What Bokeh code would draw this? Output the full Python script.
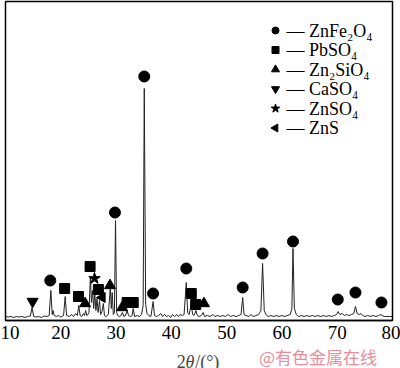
import math
from bokeh.plotting import figure
from bokeh.layouts import column
from bokeh.models import Range1d, Label, FixedTicker
from bokeh.embed import file_html
from bokeh.resources import INLINE

# XRD trace (2theta in degrees, intensity in arbitrary units)
TWO_THETA = [10.0, 10.5, 11.0, 11.5, 12.0, 12.5, 13.0, 13.5, 14.0, 14.5, 14.8, 15.1, 15.5, 16.0, 16.5,
             17.0, 17.5, 17.9, 18.2, 18.45, 18.6, 18.8, 19.2, 19.6, 20.0, 20.5, 20.8, 21.05, 21.5, 22.0,
             22.3, 22.7, 23.0, 23.25, 23.5, 23.8, 24.1, 24.3, 24.5, 24.7, 24.9, 25.1, 25.35, 25.55, 25.75,
             25.95, 26.15, 26.35, 26.55, 26.75, 27.0, 27.2, 27.45, 27.7, 27.9, 28.2, 28.6, 28.95, 29.15,
             29.3, 29.5, 29.7, 29.9, 30.1, 30.3, 30.6, 30.9, 31.15, 31.4, 31.7, 32.0, 32.25, 32.6, 32.9,
             33.1, 33.35, 33.8, 34.2, 34.6, 34.9, 35.1, 35.35, 35.6, 35.9, 36.3, 36.7, 36.95, 37.3, 37.7,
             38.1, 38.4, 38.8, 39.1, 39.5, 39.9, 40.2, 40.6, 41.0, 41.3, 41.6, 42.0, 42.3, 42.7, 42.95,
             43.2, 43.6, 43.85, 44.1, 44.45, 44.7, 45.0, 45.4, 45.75, 46.0, 46.5, 47.0, 47.5, 47.9, 48.4,
             48.8, 49.3, 49.8, 50.3, 50.7, 51.2, 51.7, 52.2, 52.6, 52.9, 53.15, 53.5, 54.0, 54.4, 54.8,
             55.3, 55.8, 56.2, 56.5, 56.8, 57.1, 57.5, 58.0, 58.5, 59.0, 59.5, 60.0, 60.5, 61.0, 61.5,
             61.8, 62.0, 62.25, 62.6, 63.0, 63.5, 64.0, 64.5, 65.0, 65.5, 66.0, 66.5, 67.0, 67.5, 68.0,
             68.5, 69.0, 69.5, 69.9, 70.15, 70.5, 70.9, 71.3, 71.7, 72.1, 72.6, 73.0, 73.3, 73.6, 74.0,
             74.3, 74.6, 75.0, 75.5, 76.0, 76.5, 77.0, 77.5, 77.9, 78.1, 78.5, 79.0, 79.5, 80.0]
INTENSITY = [4, 3.5, 4, 3, 4, 3.5, 4, 3, 4, 4.5, 13, 4, 3.5, 4, 3,
             4.5, 4, 5, 30, 6, 10, 5, 4, 5, 3.5, 5, 24, 5, 4, 6,
             4, 7, 5, 15, 5, 4, 7, 5, 10, 5, 6, 8, 43, 18, 30,
             12, 27, 10, 22, 8, 20, 6, 9, 17, 5, 4, 6, 32, 12,
             28, 6, 8, 100, 8, 5, 4, 5, 8, 4, 5, 10, 5, 4, 5,
             12, 4, 5, 4, 6, 15, 232, 16, 7, 5, 4, 19, 5, 4, 5,
             7, 4, 6, 4, 5, 3, 6, 4, 6, 4, 6, 5, 6, 38, 8,
             6, 16, 6, 5, 10, 5, 4, 5, 8, 4, 5, 4, 6, 4, 5,
             4, 5, 4, 6, 4, 5, 4, 5, 6, 23, 6, 5, 4, 6, 4,
             5, 6, 10, 57, 10, 6, 4, 5, 4, 5, 4, 5, 4, 5, 6,
             12, 72, 12, 6, 4, 5, 4, 5, 4, 5, 4, 5, 4, 5, 4,
             5, 4, 5, 6, 9, 6, 7, 5, 6, 5, 6, 7, 14, 7, 6,
             7, 5, 4, 5, 4, 5, 4, 5, 6, 5, 4, 4, 4, 4]

# Phase markers: 2theta and label height
ZNFE2O4_X = [18.1, 29.8, 35.1, 36.7, 42.7, 52.9, 56.5, 62.0, 70.1, 73.3, 78.0]
ZNFE2O4_Y = [40, 108, 244, 27, 52, 33, 67, 79, 21, 28, 18]
PBSO4_X = [20.7, 23.2, 25.3, 26.8, 32.0, 33.1, 43.6, 44.4]
PBSO4_Y = [32, 24, 54, 31, 18, 18, 27, 16]
ZN2SIO4_X = [24.4, 28.9, 31.1, 45.9]
ZN2SIO4_Y = [17, 35, 13, 17]
CASO4_X = [14.9]
CASO4_Y = [19]
ZNSO4_X = [26.1]
ZNSO4_Y = [42]
ZNS_X = [27.5]
ZNS_Y = [23]

X_TICKS = [10, 20, 30, 40, 50, 60, 70, 80]
PHASES = ["ZnFe₂O₄", "PbSO₄", "Zn₂SiO₄", "CaSO₄", "ZnSO₄", "ZnS"]
WATERMARK = "@有色金属在线"

SERIF = "Liberation Serif"
X_MIN, X_MAX = 10, 80
FRAME_L, FRAME_W, FRAME_H = 5, 387, 319
MAIN_H = 346

p = figure(width=400, height=MAIN_H, x_range=Range1d(X_MIN, X_MAX), y_range=Range1d(0, FRAME_H),
           output_backend="svg", toolbar_location=None,
           min_border_left=FRAME_L, min_border_right=400 - FRAME_L - FRAME_W, min_border_top=1,
           min_border_bottom=MAIN_H - FRAME_H - 1)

p.xgrid.visible = False
p.ygrid.visible = False
p.yaxis.visible = False
p.outline_line_color = "black"
p.outline_line_width = 1.5
p.outline_line_alpha = 1.0

ax = p.xaxis[0]
ax.ticker = FixedTicker(ticks=X_TICKS)
ax.major_tick_in = 0
ax.major_tick_out = 0
ax.minor_tick_in = 0
ax.minor_tick_out = 0
ax.axis_line_color = "black"
ax.axis_line_width = 1.5
ax.major_label_text_font = SERIF
ax.major_label_text_font_size = "19px"
ax.major_label_text_color = "black"
ax.major_label_standoff = 5

p.line(TWO_THETA, INTENSITY, line_color="#222222", line_width=1)

p.scatter(ZNFE2O4_X, ZNFE2O4_Y, marker="circle", size=11, color="black")
p.scatter(PBSO4_X, PBSO4_Y, marker="square", size=10, color="black")
p.scatter(ZN2SIO4_X, ZN2SIO4_Y, marker="triangle", size=11, color="black")
p.scatter(CASO4_X, CASO4_Y, marker="inverted_triangle", size=11, color="black")
p.scatter(ZNSO4_X, ZNSO4_Y, marker="star", size=12, color="black")
p.scatter(ZNS_X, ZNS_Y, marker="triangle", angle=math.pi / 2, size=10, color="black")

# Legend (drawn by hand so that the ZnS symbol can point left)
LEG_MARKERS = [("circle", 0.0, 7), ("square", 0.0, 7), ("triangle", 0.0, 8),
               ("inverted_triangle", 0.0, 8), ("star", 0.0, 9), ("triangle", math.pi / 2, 8)]
leg_top, leg_step = 30, 19.5          # screen px from canvas top
leg_mark_sx, leg_text_sx = 275, 286   # screen px from canvas left
px_per_deg = FRAME_W / (X_MAX - X_MIN)
for i, (name, (mk, ang, sz)) in enumerate(zip(PHASES, LEG_MARKERS)):
    cy = leg_top + i * leg_step
    ydata = FRAME_H + 1 - cy
    xdata = X_MIN + (leg_mark_sx - FRAME_L) / px_per_deg
    p.scatter([xdata], [ydata], marker=mk, angle=ang, size=sz, color="black")
    p.add_layout(Label(x=leg_text_sx - FRAME_L, y=ydata, x_units="screen", y_units="data",
                       text="— " + name, text_font=SERIF, text_font_size="18px",
                       text_baseline="middle", text_color="black"))

# Bottom strip with axis title (2θ/(°), θ in italics) and watermark
STRIP_H = 368 - MAIN_H
q = figure(width=400, height=STRIP_H, x_range=Range1d(0, 400), y_range=Range1d(0, STRIP_H),
           output_backend="svg", toolbar_location=None,
           min_border_left=0, min_border_right=0, min_border_top=0, min_border_bottom=0)
q.xaxis.visible = False
q.yaxis.visible = False
q.xgrid.visible = False
q.ygrid.visible = False
q.outline_line_alpha = 0

q.add_layout(Label(x=177, y=7, text="2", text_font=SERIF, text_font_size="18px",
                   text_baseline="alphabetic"))
q.add_layout(Label(x=186, y=7, text="θ", text_font=SERIF, text_font_style="italic",
                   text_font_size="18px", text_baseline="alphabetic"))
q.add_layout(Label(x=196, y=7, text="/(°)", text_font=SERIF, text_font_size="18px",
                   text_baseline="alphabetic"))
q.add_layout(Label(x=262, y=12, text=WATERMARK, text_font="Noto Sans CJK SC",
                   text_font_size="17px", text_color="#e98d98", text_baseline="middle"))

layout = column(p, q, spacing=0)
open("out.html", "w").write(file_html(layout, INLINE))
